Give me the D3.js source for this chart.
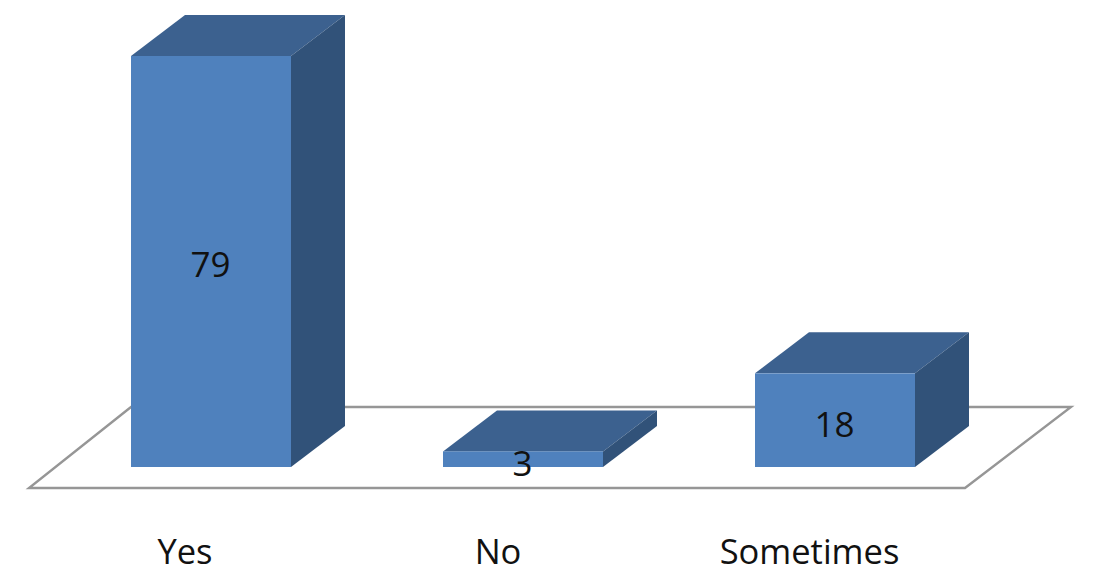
<!DOCTYPE html>
<html><head><meta charset="utf-8">
<script src="https://cdnjs.cloudflare.com/ajax/libs/d3/7.8.5/d3.min.js"></script>
<style>html,body{margin:0;padding:0;background:#fff}svg{display:block}</style>
</head><body><svg id="c" width="1095" height="578"></svg>
<script>
const categories = ["Yes","No","Sometimes"];
const values = [79,3,18];
const svg = d3.select("#c");
const dx = 54, dy = 41;
const band = d3.scaleOrdinal().domain(categories).range([131,443,755]);
const w = 160;
const y = d3.scaleLinear().domain([0,79]).range([467,56]);
const font = "'Open Sans','Noto Sans',sans-serif";
const path = d3.line();
// floor
svg.append("path").attr("d",path([[29,488],[965,488],[1071,407],[131,407]])+"Z")
  .attr("fill","#fff").attr("stroke","#969696").attr("stroke-width",2.4);
const g = svg.selectAll("g.bar").data(categories.map((c,i)=>({c,v:values[i]}))).join("g").attr("class","bar");
g.append("path").attr("fill","#3c618f").attr("d",d=>{const l=band(d.c),t=y(d.v);return path([[l,t],[l+w,t],[l+w+dx,t-dy],[l+dx,t-dy]])+"Z";});
g.append("path").attr("fill","#315279").attr("d",d=>{const l=band(d.c)+w,t=y(d.v);return path([[l,t],[l+dx,t-dy],[l+dx,y(0)-dy],[l,y(0)]])+"Z";});
g.append("rect").attr("fill","#4f81bd").attr("x",d=>band(d.c)).attr("y",d=>y(d.v)).attr("width",w).attr("height",d=>y(0)-y(d.v));
const valueShift = d3.scaleOrdinal().domain(categories).range([15,17,17]);
g.append("text").attr("x",d=>band(d.c)+w/2-.5).attr("y",d=>(y(d.v)+y(0))/2+valueShift(d.c)).attr("text-anchor","middle")
  .attr("font-family",font).attr("font-size",35).attr("fill","#111").text(d=>d.v);
const labelX = d3.scaleOrdinal().domain(categories).range([185,498,809.5]);
svg.selectAll("text.cat").data(categories).join("text").attr("class","cat")
  .attr("x",d=>labelX(d)).attr("y",564).attr("text-anchor","middle")
  .attr("font-family",font).attr("font-size",34.5).attr("fill","#111").text(d=>d);
</script></body></html>
